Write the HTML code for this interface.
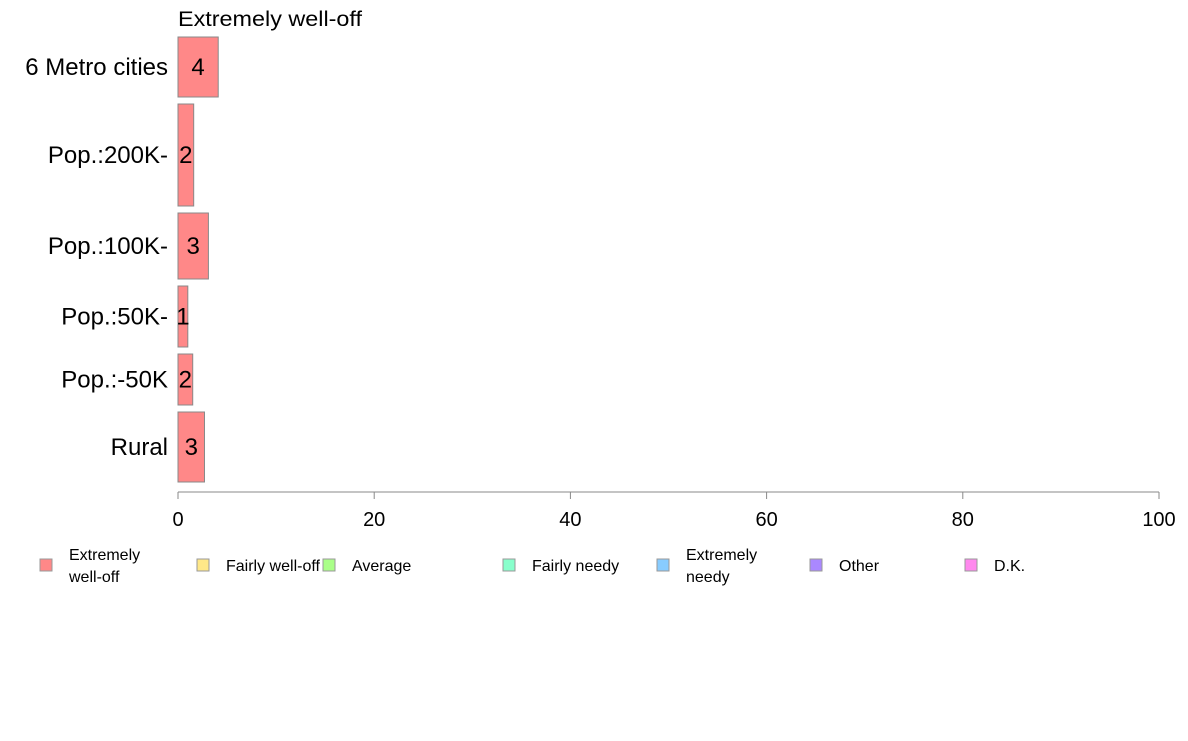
<!DOCTYPE html>
<html><head><meta charset="utf-8"><style>
html,body{margin:0;padding:0;background:#fff;}
svg text{font-family:"Liberation Sans",Arial,sans-serif;}
</style></head><body>
<svg id="chart" width="1188" height="736" xmlns="http://www.w3.org/2000/svg">
<text x="178" y="26" font-size="21" textLength="184" lengthAdjust="spacingAndGlyphs" fill="#000">Extremely well-off</text>
<g id="bars"></g>
<g id="xaxis"></g>
<g id="legend"></g>
</svg>
<script>
const categories = ["6 Metro cities","Pop.:200K-","Pop.:100K-","Pop.:50K-","Pop.:-50K","Rural"];
const values = [4.1, 1.6, 3.1, 1.0, 1.5, 2.7];
const labels = ["4","2","3","1","2","3"];
const weights = [60, 102, 66, 61, 51, 70];
const xTicks = [0,20,40,60,80,100];
const legendNames = ["Extremely\nwell-off","Fairly well-off","Average","Fairly needy","Extremely\nneedy","Other","D.K."];
const legendColors = ["#ff8888","#ffe888","#aaff88","#88ffcc","#88ccff","#aa88ff","#ff88ee"];

const NS="http://www.w3.org/2000/svg";
const x0=178,x1=1159,barTop=37,gap=7;
const xs=v=>x0+(x1-x0)*v/100;
function mk(t,a,p){const e=document.createElementNS(NS,t);for(const k in a)e.setAttribute(k,a[k]);p.appendChild(e);return e;}
const bars=document.getElementById('bars');
let yPos=barTop;
categories.forEach((c,i)=>{
  const h=weights[i];
  const r=mk('rect',{x:x0,y:yPos,width:xs(values[i])-x0,height:h,fill:'#ff8888',stroke:'#888','stroke-width':1},bars);
  
  
  const cx=(x0+xs(values[i]))/2;
  const t=mk('text',{x:cx,y:yPos+h/2+8,'font-size':24,'text-anchor':'middle'},bars);t.textContent=labels[i];
  
  
  const l=mk('text',{x:168,y:yPos+h/2+8,'font-size':24,'text-anchor':'end'},bars);l.textContent=c;
  
  
  yPos+=h+gap;
});
const ax=document.getElementById('xaxis');
const line=mk('line',{x1:x0,x2:x1,y1:492,y2:492,stroke:'#888'},ax);


xTicks.forEach(v=>{
  mk('line',{x1:xs(v),x2:xs(v),y1:492,y2:499,stroke:'#888'},ax);
  const t=mk('text',{x:xs(v),y:526,'font-size':20,'text-anchor':'middle'},ax);t.textContent=v;
  
  
});
const lg=document.getElementById('legend');
const lx=[35,192,318,498,652,805,960];
legendNames.forEach((n,i)=>{
  const g=mk('g',{},lg);
  
  
  mk('rect',{x:lx[i]+5,y:559,width:12,height:12,fill:legendColors[i],stroke:'#999'},g);
  const parts=n.split('\n');
  parts.forEach((p,j)=>{
    const t=mk('text',{x:lx[i]+34,y:(parts.length===1?571:560+j*22),'font-size':16},g);t.textContent=p;
  });
});
</script>
</body></html>
